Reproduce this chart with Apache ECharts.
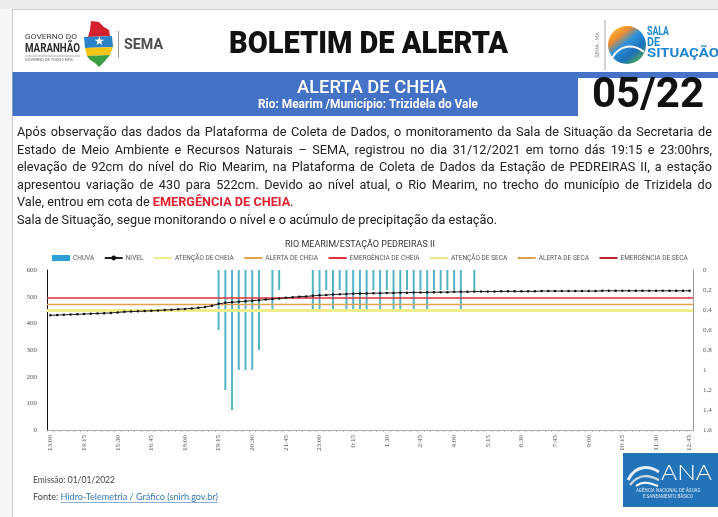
<!DOCTYPE html>
<html><head><meta charset="utf-8">
<script src="https://cdn.jsdelivr.net/npm/echarts@6/dist/echarts.min.js"></script>
<style>html,body{margin:0;padding:0;background:#fff}#c{width:718px;height:517px}</style>
</head><body><div id="c"></div>
<script>
// Horários das leituras (15 em 15 minutos)
const horas = ['13:00','13:15','13:30','13:45','14:00','14:15','14:30','14:45','15:00','15:15','15:30','15:45','16:00','16:15','16:30','16:45','17:00','17:15','17:30','17:45','18:00','18:15','18:30','18:45','19:00','19:15','19:30','19:45','20:00','20:15','20:30','20:45','21:00','21:15','21:30','21:45','22:00','22:15','22:30','22:45','23:00','23:15','23:30','23:45','0:00','0:15','0:30','0:45','1:00','1:15','1:30','1:45','2:00','2:15','2:30','2:45','3:00','3:15','3:30','3:45','4:00','4:15','4:30','4:45','5:00','5:15','5:30','5:45','6:00','6:15','6:30','6:45','7:00','7:15','7:30','7:45','8:00','8:15','8:30','8:45','9:00','9:15','9:30','9:45','10:00','10:15','10:30','10:45','11:00','11:15','11:30','11:45','12:00','12:15','12:30','12:45'];

// Chuva (mm) por intervalo
const chuva = [
  null,null,null,null,null,null,null,null,null,null,
  null,null,null,null,null,null,null,null,null,null,
  null,null,null,null,null,0.6,1.2,1.4,1.0,1.0,
  1.0,0.8,null,0.4,0.2,null,null,null,null,0.4,
  0.4,0.2,0.4,0.2,0.4,0.4,0.4,0.4,0.2,0.4,
  0.2,0.4,0.4,0.2,0.4,0.2,0.4,0.2,0.2,0.2,
  0.2,0.4,null,0.2,null,null,null,null,null,null,
  null,null,null,null,null,null,null,null,null,null,
  null,null,null,null,null,null,null,null,null,null,
  null,null,null,null,null,null
];

// Nível do rio (cm)
const nivel = [
  430,431,432,433,434,435,436,437,438,439,
  441,443,444,445,446,447,448,450,451,453,
  454,456,458,461,466,473,477,479,481,483,
  485,487,489,491,493,496,498,500,501,503,
  505,506,508,509,510,511,512,512,513,513,
  514,514,515,515,516,516,516,517,517,517,
  518,518,518,519,519,519,519,520,520,520,
  520,520,520,521,521,521,521,521,521,521,
  521,521,522,522,522,522,522,522,522,522,
  522,522,522,522,522,522
];

// Cotas de referência (cm)
const cotaAtencaoCheia = 450;
const cotaAlertaCheia = 470;
const cotaEmergenciaCheia = 495;

// Eixos
const nivelTicks = {min: 0, max: 600, step: 100};
const chuvaTicks = {min: 0, max: 1.6, step: 0.2};

const chart = echarts.init(document.getElementById('c'), null, {renderer: 'canvas', width: 718, height: 517});

// medição de texto para ajuste de largura das linhas
const mc = document.createElement('canvas').getContext('2d');
function measure(t, weight, size, family) { mc.font = weight + ' ' + size + 'px ' + family; return mc.measureText(t).width; }

const G = [];
function rect(x, y, w, h, fill) { G.push({type: 'rect', shape: {x, y, width: w, height: h}, style: {fill}, silent: true}); }
function line(x1, y1, x2, y2, stroke, lw) { G.push({type: 'line', shape: {x1, y1, x2, y2}, style: {stroke, lineWidth: lw || 1}, silent: true}); }
function txt(t, x, y, o) {
  o = o || {};
  const size = o.size || 12, weight = o.weight || 'normal', family = o.family || 'Roboto';
  let sx = o.scaleX || 1;
  if (o.fit) sx = o.fit / measure(t, weight, size, family);
  G.push({type: 'text', x, y, scaleX: sx, rotation: o.rotation || 0, silent: true,
    style: {text: t, fill: o.color || '#222', fontSize: size, fontWeight: weight, fontFamily: family,
      align: o.align || 'left', verticalAlign: 'middle'}});
  return measure(t, weight, size, family) * sx;
}

// moldura
rect(0, 0, 718, 517, '#ffffff');
rect(0, 0, 718, 9, '#ececec');
line(0, 9.5, 718, 9.5, '#cfcfcf');
rect(0, 9, 12, 508, '#f6f6f6');
line(12.5, 9, 12.5, 517, '#c9c9c9');

// logotipo do governo
txt('GOVERNO DO', 25, 37, {size: 8, fit: 52, color: '#3a3a3a'});
txt('MARANHÃO', 25, 49, {size: 13, weight: 'bold', fit: 55, color: '#2b2b2b'});
line(25, 56, 80, 56, '#777', 0.6);
txt('GOVERNO DE TODOS NÓS', 25, 60, {size: 4, fit: 48, color: '#666'});
G.push({type: 'polygon', shape: {points: [[91,21],[99,22],[104,27],[109,30],[110,36],[88,37],[90,30]]}, style: {fill: '#d3212d'}, silent: true});
G.push({type: 'polygon', shape: {points: [[84,37],[112,36],[113,47],[85,48]]}, style: {fill: '#2c82c9'}, silent: true});
G.push({type: 'polygon', shape: {points: [[85,48],[113,47],[110,55],[87,56]]}, style: {fill: '#f2c418'}, silent: true});
G.push({type: 'polygon', shape: {points: [[87,56],[110,55],[105,61],[99,67],[95,63],[90,60]]}, style: {fill: '#3c9e43'}, silent: true});
txt('★', 99, 42, {size: 12, color: '#ffffff', align: 'center'});
line(118.5, 31, 118.5, 58, '#9a9a9a', 1);
txt('SEMA', 124, 45, {size: 14, weight: 'bold', fit: 39, color: '#4d4d4d'});

// título
txt('BOLETIM DE ALERTA', 229, 45, {size: 32, weight: '900', family: 'Roboto', fit: 279, color: '#111'});

// logotipo sala de situação
line(605, 20, 605, 70, '#a8a8a8', 1);
txt('SEMA - MA', 598, 45, {size: 5, color: '#888', align: 'center', rotation: Math.PI / 2});
G.push({type: 'circle', shape: {cx: 627, cy: 45, r: 19}, silent: true,
  style: {fill: new echarts.graphic.LinearGradient(0, 0, 0.8, 1, [
    {offset: 0, color: '#fbd14b'}, {offset: 0.3, color: '#f08c2a'},
    {offset: 0.5, color: '#2e93d9'}, {offset: 0.75, color: '#1d6fb9'}, {offset: 1, color: '#53b24c'}])}});
G.push({type: 'bezierCurve', shape: {x1: 612, y1: 58, cpx1: 620, cpy1: 44, cpx2: 634, cpy2: 44, x2: 644, y2: 52}, style: {stroke: '#ffffff', lineWidth: 2, fill: null}, silent: true});
txt('SALA', 647, 32, {size: 12, weight: 'bold', fit: 22, color: '#1d86cf'});
txt('DE', 647, 42.5, {size: 12, weight: 'bold', fit: 13, color: '#1d86cf'});
txt('SITUAÇÃO', 647, 53.5, {size: 12, weight: 'bold', fit: 72, color: '#1d86cf'});

// faixa azul
rect(12.5, 72, 706, 44, '#4472c4');
rect(578, 78, 140, 38, '#ffffff');
txt('ALERTA DE CHEIA', 297, 88, {size: 19, weight: '500', fit: 150, color: '#ffffff'});
txt('Rio: Mearim /Município: Trizidela do Vale', 258, 105, {size: 13, weight: 'bold', fit: 220, color: '#ffffff'});
txt('05/22', 592, 96, {size: 42, weight: 'bold', fit: 112, color: '#111'});

// texto do boletim
const pL = 17, pR = 712, pSize = 13, pFam = 'Roboto';
const linhas = [
  'Após observação das dados da Plataforma de Coleta de Dados, o monitoramento da Sala de Situação da Secretaria de',
  'Estado de Meio Ambiente e Recursos Naturais – SEMA, registrou no dia 31/12/2021 em torno dás 19:15 e 23:00hrs,',
  'elevação de 92cm do nível do Rio Mearim, na Plataforma de Coleta de Dados da Estação de PEDREIRAS II, a estação',
  'apresentou variação de 430 para 522cm. Devido ao nível atual, o Rio Mearim, no trecho do município de Trizidela do'
];
const ultima = 'Sala de Situação, segue monitorando o nível e o acúmulo de precipitação da estação.';
const pScale = (497 - pL) / measure(ultima, 'normal', pSize, pFam);
const lineYs = [133, 150.5, 168, 185.5, 203, 220.5];
linhas.forEach((ln, k) => {
  const words = ln.split(' ');
  const ws = words.map(w => measure(w, 'normal', pSize, pFam) * pScale);
  const gap = (pR - pL - ws.reduce((a, b) => a + b, 0)) / (words.length - 1);
  let x = pL;
  words.forEach((w, i) => { txt(w, x, lineYs[k], {size: pSize, family: pFam, scaleX: pScale, color: '#222'}); x += ws[i] + gap; });
});
let x5 = pL;
x5 += txt('Vale, entrou em cota de ', x5, lineYs[4], {size: pSize, family: pFam, scaleX: pScale, color: '#222'});
x5 += txt('EMERGÊNCIA DE CHEIA', x5, lineYs[4], {size: pSize, family: pFam, weight: 'bold', scaleX: pScale, color: '#e0202e'});
txt('.', x5, lineYs[4], {size: pSize, family: pFam, scaleX: pScale, color: '#222'});
txt(ultima, pL, lineYs[5], {size: pSize, family: pFam, scaleX: pScale, color: '#222'});

// rodapé
txt('Emissão: 01/01/2022', 33, 480, {size: 10, family: 'Lato', fit: 82, color: '#444'});
const fScale = 185 / measure('Fonte: Hidro-Telemetria / Gráfico (snirh.gov.br)', 'normal', 10, 'Lato');
const fw = txt('Fonte: ', 33, 497, {size: 10, family: 'Lato', scaleX: fScale, color: '#444'});
const lw = txt('Hidro-Telemetria / Gráfico (snirh.gov.br)', 33 + fw, 497, {size: 10, family: 'Lato', scaleX: fScale, color: '#3a78b8'});
line(33 + fw, 502.5, 33 + fw + lw, 502.5, '#3a78b8', 0.6);

// logotipo ANA
rect(623, 453, 95, 54, '#2273b7');
G.push({type: 'bezierCurve', shape: {x1: 628, y1: 480, cpx1: 636, cpy1: 464, cpx2: 650, cpy2: 466, x2: 659, y2: 472}, style: {stroke: '#e8eef5', lineWidth: 3, fill: null}, silent: true});
G.push({type: 'bezierCurve', shape: {x1: 630, y1: 485, cpx1: 640, cpy1: 472, cpx2: 650, cpy2: 476, x2: 659, y2: 480}, style: {stroke: '#c9d4df', lineWidth: 2.5, fill: null}, silent: true});
G.push({type: 'bezierCurve', shape: {x1: 636, y1: 486, cpx1: 644, cpy1: 480, cpx2: 652, cpy2: 484, x2: 658, y2: 486}, style: {stroke: '#ffffff', lineWidth: 2, fill: null}, silent: true});
txt('ANA', 661, 473, {size: 22, weight: '300', family: 'Lato', fit: 51, color: '#ffffff'});
txt('AGÊNCIA NACIONAL DE ÁGUAS', 668, 491, {size: 4.5, align: 'center', color: '#dfe9f5'});
txt('E SANEAMENTO BÁSICO', 668, 496.5, {size: 4.5, align: 'center', color: '#dfe9f5'});

function threshold(name, color, width, value) {
  const s = {name, type: 'line', data: [], symbol: 'none', showSymbol: false, color, lineStyle: {color, width}, yAxisIndex: 0};
  if (value != null) s.markLine = {silent: true, symbol: 'none', label: {show: false}, lineStyle: {color, width, type: 'solid'}, data: [{yAxis: value}]};
  return s;
}
const lineItem = name => ({name, itemStyle: {opacity: 0}});

chart.setOption({
  animation: false,
  title: {text: 'RIO MEARIM/ESTAÇÃO PEDREIRAS II', left: 285, top: 240, padding: 0,
    textStyle: {fontSize: 9, fontWeight: 'normal', color: '#333', fontFamily: 'Roboto'}},
  legend: {top: 254.5, left: 52, width: 662, padding: 0, itemWidth: 18, itemHeight: 6, itemGap: 9.5,
    textStyle: {fontSize: 6.5, color: '#555', fontFamily: 'Roboto', padding: [0, 0, 0, -2]},
    data: [{name: 'CHUVA', icon: 'rect', itemStyle: {color: '#2ea0d8'}}, 'NIVEL',
      lineItem('ATENÇÃO DE CHEIA'), lineItem('ALERTA DE CHEIA'), lineItem('EMERGÊNCIA DE CHEIA'),
      lineItem('ATENÇÃO DE SECA'), lineItem('ALERTA DE SECA'), lineItem('EMERGÊNCIA DE SECA')]},
  grid: {left: 47, right: 25, top: 270, bottom: 87, show: true, borderColor: '#aaa', borderWidth: 1},
  xAxis: {type: 'category', data: horas, boundaryGap: true,
    axisLine: {lineStyle: {color: '#aaa'}},
    axisTick: {show: true, interval: 0, length: 2, lineStyle: {color: '#bbb'}},
    axisLabel: {interval: 4, rotate: 90, fontSize: 7, color: '#555', fontFamily: 'Liberation Serif', margin: 5}},
  yAxis: [
    {type: 'value', min: nivelTicks.min, max: nivelTicks.max, interval: nivelTicks.step, position: 'left',
      axisLine: {show: true, lineStyle: {color: '#111'}}, axisTick: {show: false}, splitLine: {show: false},
      axisLabel: {fontSize: 7, color: '#555', margin: 10, fontFamily: 'Liberation Serif'}},
    {type: 'value', min: chuvaTicks.min, max: chuvaTicks.max, interval: chuvaTicks.step, inverse: true, position: 'right',
      axisLine: {show: true, lineStyle: {color: '#999'}}, axisTick: {show: false}, splitLine: {show: false},
      axisLabel: {fontSize: 7, color: '#555', margin: 10, fontFamily: 'Liberation Serif',
        formatter: v => String(+v.toFixed(1)).replace('.', ',')}}
  ],
  graphic: {elements: G},
  series: [
    {name: 'CHUVA', type: 'bar', yAxisIndex: 1, data: chuva, barWidth: 2, itemStyle: {color: '#55b3c6'}, z: 2},
    threshold('ATENÇÃO DE CHEIA', '#f1ec8c', 3, cotaAtencaoCheia),
    threshold('ALERTA DE CHEIA', '#e3a44c', 1.3, cotaAlertaCheia),
    threshold('EMERGÊNCIA DE CHEIA', '#e0313b', 1.5, cotaEmergenciaCheia),
    threshold('ATENÇÃO DE SECA', '#f5e58a', 1.3, null),
    threshold('ALERTA DE SECA', '#d9a251', 1.3, null),
    threshold('EMERGÊNCIA DE SECA', '#c1232d', 2, null),
    {name: 'NIVEL', type: 'line', yAxisIndex: 0, data: nivel, color: '#111', symbol: 'circle', symbolSize: 2.5,
      lineStyle: {color: '#222', width: 1}, z: 5}
  ]
});
</script></body></html>
